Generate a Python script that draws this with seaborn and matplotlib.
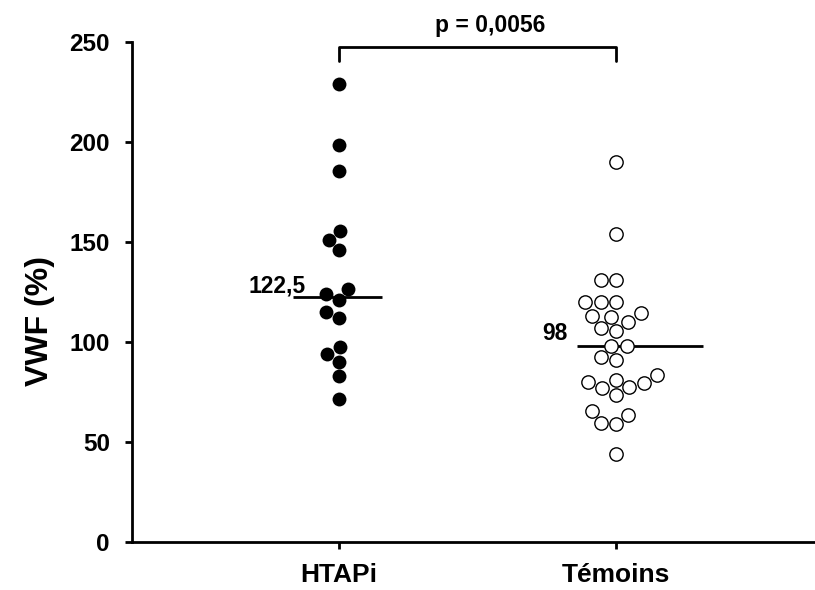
import numpy as np
import pandas as pd
import matplotlib
matplotlib.use('Agg')
import matplotlib.pyplot as plt
import seaborn as sns

# values
groups = ['HTAPi', 'Témoins']
htapi = [229, 198.5, 185.5, 155.5, 151, 146, 126.5, 124, 121, 115, 112,
         97.5, 94, 90, 83, 71.5]
temoins = [190, 154, 131, 131, 120, 120, 120, 114.5, 113, 112.5, 110, 107,
           105.5, 98, 98, 92.5, 91, 83.5, 81, 80, 79.5, 77.5, 77, 73.5,
           65.5, 63.5, 59.5, 59, 44]
median_labels = ['122,5', '98']
p_text = 'p = 0,0056'
y_ticks = [0, 50, 100, 150, 200, 250]

sns.set_style('ticks')
plt.rcParams['font.family'] = ['Liberation Sans', 'DejaVu Sans']
plt.rcParams['font.weight'] = 'bold'
plt.rcParams['text.color'] = 'black'
plt.rcParams['axes.labelcolor'] = 'black'
plt.rcParams['axes.edgecolor'] = 'black'
plt.rcParams['xtick.color'] = 'black'
plt.rcParams['ytick.color'] = 'black'

df = pd.DataFrame({
    'group': [groups[0]] * len(htapi) + [groups[1]] * len(temoins),
    'value': htapi + temoins,
})

fig = plt.figure(figsize=(8.15, 5.9), dpi=100)
ax = fig.add_axes([132 / 815, 48 / 590, 683 / 815, 500 / 590])

sns.swarmplot(data=df[df['group'] == groups[0]], x='group', y='value',
              order=groups, color='black', size=10, ax=ax)
sns.swarmplot(data=df[df['group'] == groups[1]], x='group', y='value',
              order=groups, color='white', edgecolor='black', linewidth=1,
              size=9.6, ax=ax)

ax.set_xlim(-0.747, 1.718)
ax.set_ylim(0, 250)
ax.set_yticks(y_ticks)
ax.set_xlabel('')
ax.set_ylabel('')

# median lines + labels
med_h = np.median(htapi)
med_t = np.median(temoins)
ax.hlines(med_h, -0.165, 0.155, color='black', lw=2)
ax.hlines(med_t, 0.86, 1.314, color='black', lw=2)
ax.text(-0.119, med_h + 2, median_labels[0], ha='right', va='baseline',
        fontsize=16.5, fontweight='bold')
ax.text(0.827, med_t + 3, median_labels[1], ha='right', va='baseline',
        fontsize=16.5, fontweight='bold')

# significance bracket
ax.plot([0, 0, 1, 1], [240.5, 247.7, 247.7, 240.5], color='black', lw=2,
        clip_on=False)
ax.text(0.545, 255, p_text, ha='center', va='baseline', fontsize=16.5,
        fontweight='bold', clip_on=False)

fig.text(40 / 815, 1 - 321 / 590, 'VWF (%)', rotation=90, ha='center',
         va='center', fontsize=23, fontweight='bold')

sns.despine(ax=ax)
for side in ['left', 'bottom']:
    ax.spines[side].set_linewidth(2)
ax.tick_params(axis='both', width=2, length=5, color='black')
ax.tick_params(axis='y', labelsize=17.5, pad=11, labelcolor='black')
ax.tick_params(axis='x', labelsize=19, pad=10, labelcolor='black')
for lab in ax.get_xticklabels() + ax.get_yticklabels():
    lab.set_fontweight('bold')

fig.savefig('out.png', dpi=100)
